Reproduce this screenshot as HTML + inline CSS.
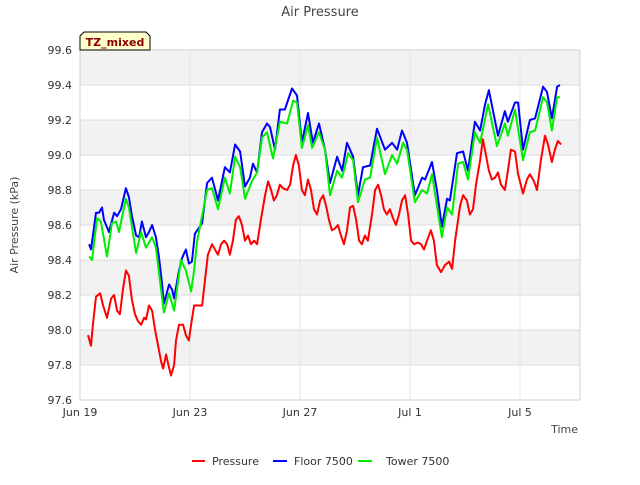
<!DOCTYPE html>
<html><head><meta charset="utf-8"><style>
body{margin:0;background:#fff;font-family:"Liberation Sans","DejaVu Sans",sans-serif;}
svg text{font-family:"DejaVu Sans","Liberation Sans",sans-serif;}
</style></head><body>
<svg id="chart" width="640" height="480" xmlns="http://www.w3.org/2000/svg">
<text x="320" y="16" text-anchor="middle" font-size="13" fill="#444">Air Pressure</text>
<g id="plot"></g>
<g>
<path d="M84,32 H146 L150,36 V50 H80 V36 Z" fill="#ffffcc" stroke="#000" stroke-width="1"/>
<text x="115" y="46" text-anchor="middle" font-size="11" font-weight="bold" fill="#8b0000">TZ_mixed</text>
</g>
<text transform="translate(18,225) rotate(-90)" text-anchor="middle" font-size="11" fill="#444">Air Pressure (kPa)</text>
<text x="578" y="433" text-anchor="end" font-size="11" fill="#444">Time</text>
<g>
<g><line x1="192" y1="461" x2="205" y2="461" stroke="#ff0000" stroke-width="2"/><text x="212" y="465" font-size="11" fill="#333">Pressure</text></g>
<g><line x1="273" y1="461" x2="287" y2="461" stroke="#0000ff" stroke-width="2"/><text x="294" y="465" font-size="11" fill="#333">Floor 7500</text></g>
<g><line x1="358" y1="461" x2="372" y2="461" stroke="#00ee00" stroke-width="2"/><text x="386" y="465" font-size="11" fill="#333">Tower 7500</text></g>
</g>
</svg>
<script>
const yTicks=[97.6,97.8,98.0,98.2,98.4,98.6,98.8,99.0,99.2,99.4,99.6];
const xTickDays=[0,4,8,12,16];
const xTickLabels=["Jun 19","Jun 23","Jun 27","Jul 1","Jul 5"];
const pressureT=[0.29,0.40,0.47,0.58,0.73,0.84,0.98,1.13,1.24,1.35,1.45,1.56,1.67,1.78,1.89,2.0,2.11,2.22,2.33,2.40,2.51,2.62,2.73,2.84,2.95,3.02,3.13,3.2,3.31,3.42,3.49,3.6,3.75,3.85,3.96,4.04,4.15,4.29,4.44,4.55,4.65,4.8,4.91,5.02,5.13,5.24,5.35,5.45,5.56,5.67,5.78,5.89,6.0,6.11,6.22,6.33,6.44,6.58,6.73,6.84,6.95,7.05,7.16,7.27,7.38,7.53,7.64,7.75,7.85,7.96,8.07,8.18,8.29,8.4,8.51,8.62,8.73,8.84,8.95,9.05,9.16,9.27,9.38,9.49,9.6,9.71,9.82,9.93,10.04,10.15,10.25,10.36,10.47,10.62,10.73,10.84,10.95,11.05,11.16,11.27,11.38,11.49,11.6,11.71,11.82,11.93,12.04,12.15,12.29,12.4,12.51,12.62,12.76,12.87,12.98,13.13,13.27,13.42,13.53,13.64,13.82,13.93,14.07,14.18,14.29,14.4,14.55,14.65,14.76,14.87,14.98,15.09,15.2,15.31,15.45,15.56,15.67,15.82,15.93,16.11,16.25,16.36,16.51,16.62,16.76,16.91,17.02,17.16,17.27,17.38,17.49];
const pressureV=[97.97,97.91,98.03,98.19,98.21,98.14,98.07,98.18,98.20,98.11,98.09,98.23,98.34,98.31,98.17,98.09,98.05,98.03,98.07,98.06,98.14,98.11,98.0,97.91,97.82,97.78,97.86,97.81,97.74,97.80,97.94,98.03,98.03,97.97,97.94,98.03,98.14,98.14,98.14,98.29,98.43,98.49,98.46,98.43,98.49,98.51,98.49,98.43,98.51,98.63,98.65,98.6,98.51,98.54,98.49,98.51,98.49,98.63,98.77,98.85,98.8,98.74,98.77,98.83,98.81,98.8,98.83,98.94,99.0,98.94,98.8,98.77,98.86,98.8,98.69,98.66,98.74,98.77,98.71,98.63,98.57,98.58,98.6,98.54,98.49,98.57,98.7,98.71,98.63,98.51,98.49,98.54,98.51,98.66,98.8,98.83,98.77,98.69,98.66,98.69,98.64,98.6,98.66,98.74,98.77,98.66,98.51,98.49,98.5,98.49,98.46,98.51,98.57,98.51,98.37,98.33,98.37,98.39,98.35,98.51,98.71,98.77,98.74,98.66,98.69,98.83,98.97,99.09,99.0,98.91,98.86,98.87,98.9,98.83,98.8,98.91,99.03,99.02,98.89,98.78,98.86,98.89,98.85,98.8,98.97,99.11,99.06,98.96,99.03,99.08,99.06];
const floorT=[0.33,0.40,0.58,0.69,0.80,0.87,1.05,1.24,1.35,1.49,1.67,1.78,1.89,2.04,2.15,2.25,2.40,2.51,2.62,2.76,2.87,2.98,3.05,3.24,3.35,3.42,3.6,3.71,3.85,3.96,4.07,4.18,4.44,4.62,4.8,5.02,5.27,5.45,5.64,5.82,6.0,6.18,6.29,6.44,6.62,6.8,6.91,7.09,7.27,7.45,7.71,7.89,8.07,8.29,8.47,8.69,8.91,9.09,9.35,9.53,9.71,9.93,10.11,10.29,10.55,10.8,11.09,11.35,11.53,11.71,11.89,12.18,12.44,12.55,12.8,12.98,13.16,13.35,13.45,13.71,13.93,14.11,14.36,14.55,14.73,14.87,15.2,15.45,15.56,15.82,15.93,16.11,16.36,16.55,16.84,16.98,17.16,17.35,17.45];
const floorV=[98.49,98.46,98.67,98.67,98.70,98.63,98.56,98.67,98.65,98.69,98.81,98.76,98.65,98.54,98.53,98.62,98.53,98.56,98.60,98.53,98.42,98.27,98.15,98.26,98.23,98.18,98.34,98.41,98.46,98.38,98.39,98.55,98.61,98.84,98.87,98.74,98.93,98.90,99.06,99.02,98.82,98.87,98.95,98.90,99.13,99.18,99.16,99.03,99.26,99.26,99.38,99.34,99.07,99.24,99.07,99.18,99.03,98.84,98.99,98.91,99.07,98.99,98.77,98.93,98.94,99.15,99.03,99.07,99.03,99.14,99.07,98.77,98.87,98.86,98.96,98.80,98.59,98.75,98.74,99.01,99.02,98.91,99.19,99.14,99.29,99.37,99.11,99.25,99.19,99.30,99.30,99.03,99.20,99.21,99.39,99.36,99.21,99.39,99.40];
const towerT=[0.33,0.44,0.62,0.76,0.98,1.16,1.31,1.42,1.67,1.78,2.04,2.22,2.40,2.51,2.62,2.76,3.05,3.24,3.42,3.67,3.85,4.04,4.15,4.25,4.62,4.8,5.02,5.27,5.45,5.64,5.82,6.0,6.25,6.44,6.62,6.8,7.02,7.27,7.53,7.75,7.89,8.07,8.29,8.44,8.69,8.91,9.09,9.35,9.53,9.75,9.93,10.11,10.36,10.55,10.8,11.09,11.35,11.53,11.75,11.89,12.18,12.44,12.62,12.8,13.16,13.35,13.53,13.75,13.93,14.11,14.36,14.55,14.84,15.16,15.45,15.56,15.82,16.11,16.36,16.55,16.84,16.98,17.16,17.35,17.45];
const towerV=[98.42,98.40,98.64,98.62,98.42,98.61,98.62,98.56,98.75,98.70,98.44,98.56,98.47,98.50,98.53,98.47,98.10,98.21,98.11,98.40,98.34,98.22,98.34,98.50,98.80,98.81,98.69,98.87,98.78,98.99,98.93,98.75,98.85,98.90,99.10,99.13,98.98,99.19,99.18,99.31,99.30,99.04,99.17,99.04,99.13,99.03,98.77,98.91,98.87,99.01,98.97,98.73,98.86,98.87,99.10,98.89,99.0,98.95,99.07,99.03,98.73,98.80,98.78,98.89,98.53,98.70,98.66,98.95,98.96,98.86,99.13,99.07,99.29,99.05,99.18,99.11,99.26,98.97,99.13,99.14,99.33,99.30,99.14,99.33,99.33];

const L=80,R=580,T=50,B=400,dMax=(R-L)/27.5;
const NS="http://www.w3.org/2000/svg";
function sx(d){return L+d/dMax*(R-L);}
function sy(v){return B-(v-97.6)/2.0*(B-T);}
const plot=document.getElementById('plot');
function mk(tag,attrs,parent){const e=document.createElementNS(NS,tag);for(const k in attrs)e.setAttribute(k,attrs[k]);(parent||plot).appendChild(e);return e;}
mk('rect',{x:L,y:T,width:R-L,height:B-T,fill:'#fff'});
for(let i=0;i<yTicks.length-1;i++){
  if((yTicks.length-2-i)%2===0){
    const b=mk('rect',{x:L,y:sy(yTicks[i+1]),width:R-L,height:sy(yTicks[i])-sy(yTicks[i+1]),fill:'#f2f2f2'});
    
    
  }
}
yTicks.forEach(v=>{
  const g=mk('line',{x1:L,x2:R,y1:sy(v),y2:sy(v),stroke:'#dcdcdc','stroke-width':1});
  
  
  const t=mk('text',{x:L-8,y:sy(v)+4,'text-anchor':'end','font-size':11,fill:'#333'});
  t.textContent=v.toFixed(1);
  
  
});
xTickDays.forEach((d,i)=>{
  const g=mk('line',{x1:sx(d),x2:sx(d),y1:T,y2:B,stroke:'#e6e6e6','stroke-width':1});
  
  
  const t=mk('text',{x:sx(d),y:B+16,'text-anchor':'middle','font-size':11,fill:'#333'});
  t.textContent=xTickLabels[i];
  
  
});
const fr=mk('rect',{x:L,y:T,width:R-L,height:B-T,fill:'none',stroke:'#d0d0d0','stroke-width':1});


function line(ts,vs,color,name){
  const d=ts.map((t,i)=>(i?'L':'M')+sx(t).toFixed(1)+','+sy(vs[i]).toFixed(1)).join(' ');
  const p=mk('path',{d:d,fill:'none',stroke:color,'stroke-width':2,'stroke-linejoin':'round'});
  
  
}
line(pressureT,pressureV,'#ff0000','pressure-line');
line(floorT,floorV,'#0000ff','floor-7500-line');
line(towerT,towerV,'#00ee00','tower-7500-line');
</script>
</body></html>
